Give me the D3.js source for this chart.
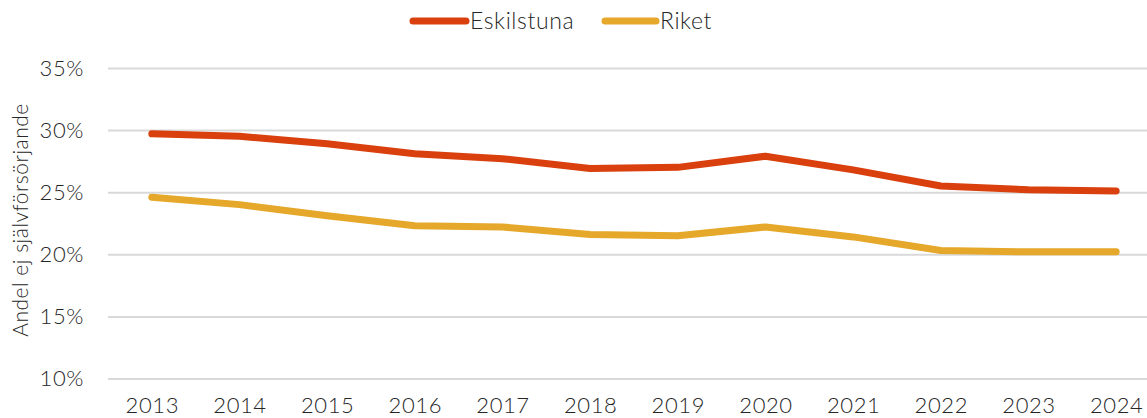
<!DOCTYPE html>
<html>
<head>
<meta charset="utf-8">
<script src="https://cdn.jsdelivr.net/npm/d3@7"></script>
<style>
  html, body { margin: 0; padding: 0; background: #fff; }
  svg { display: block; }
  text { font-family: "Lato", "DejaVu Sans", sans-serif; font-weight: 300; fill: #262626; }
</style>
</head>
<body>
<svg id="chart" width="1147" height="418"></svg>
<script>
// Years on the x-axis
const years = ["2013","2014","2015","2016","2017","2018","2019","2020","2021","2022","2023","2024"];
// Share not self-supporting (%)
const eskilstuna = [29.7, 29.5, 28.9, 28.1, 27.7, 26.9, 27.0, 27.9, 26.8, 25.5, 25.2, 25.1];
const riket      = [24.6, 24.0, 23.1, 22.3, 22.2, 21.6, 21.5, 22.2, 21.4, 20.3, 20.2, 20.2];
const yTicks = [10, 15, 20, 25, 30, 35];
const seriesNames = ["Eskilstuna", "Riket"];
const seriesColors = ["#D9400E", "#E5A82A"];
const yTitle = "Andel ej självförsörjande";

const svg = d3.select("#chart");
const plot = { left: 108, right: 1160, top: 68, bottom: 378.5 };
const fontStack = "Lato, 'DejaVu Sans', sans-serif";

const x = d3.scalePoint().domain(years).range([plot.left, plot.right]).padding(0.5);
const y = d3.scaleLinear().domain([10, 35]).range([plot.bottom, plot.top]);

// Horizontal gridlines + y labels
const yAxis = d3.axisLeft(y).tickValues(yTicks).tickFormat(d => d + "%")
  .tickSize(-(plot.right - plot.left)).tickPadding(24);
const gy = svg.append("g").attr("transform", `translate(${plot.left},0)`).call(yAxis);
gy.select(".domain").remove();
gy.selectAll(".tick line").attr("stroke", "#d9d9d9").attr("stroke-width", 2);
gy.selectAll(".tick text").attr("font-size", 22).attr("fill", "#262626")
  .style("font-family", fontStack).style("font-weight", 300).attr("letter-spacing", 0.6);

// X labels
const xAxis = d3.axisBottom(x).tickSize(0).tickPadding(19);
const gx = svg.append("g").attr("transform", `translate(0,${plot.bottom})`).call(xAxis);
gx.select(".domain").remove();
gx.selectAll(".tick text").attr("font-size", 22).attr("fill", "#262626")
  .style("font-family", fontStack).style("font-weight", 300).attr("letter-spacing", 0.6);

// Y-axis title
svg.append("text")
  .attr("transform", `translate(28,${220}) rotate(-90)`)
  .attr("text-anchor", "middle")
  .attr("font-size", 21)
  .attr("letter-spacing", 0.5)
  .text(yTitle);

// Lines
const line = d3.line().x((d, i) => x(years[i])).y(d => y(d));
[[riket, seriesColors[1]], [eskilstuna, seriesColors[0]]].forEach(([vals, color]) => {
  svg.append("path")
    .datum(vals)
    .attr("d", line)
    .attr("fill", "none")
    .attr("stroke", color)
    .attr("stroke-width", 7)
    .attr("stroke-linejoin", "round")
    .attr("stroke-linecap", "round");
});

// Legend
const legendItems = [
  { name: seriesNames[0], color: seriesColors[0], x0: 413, x1: 466 },
  { name: seriesNames[1], color: seriesColors[1], x0: 605, x1: 656 }
];
legendItems.forEach(it => {
  svg.append("line")
    .attr("x1", it.x0).attr("x2", it.x1).attr("y1", 21).attr("y2", 21)
    .attr("stroke", it.color).attr("stroke-width", 7).attr("stroke-linecap", "round");
  svg.append("text")
    .attr("x", it.x1 + 4).attr("y", 21).attr("dy", "0.35em")
    .attr("font-size", 23)
    .attr("letter-spacing", 0.6)
    .text(it.name);
});
</script>
</body>
</html>
